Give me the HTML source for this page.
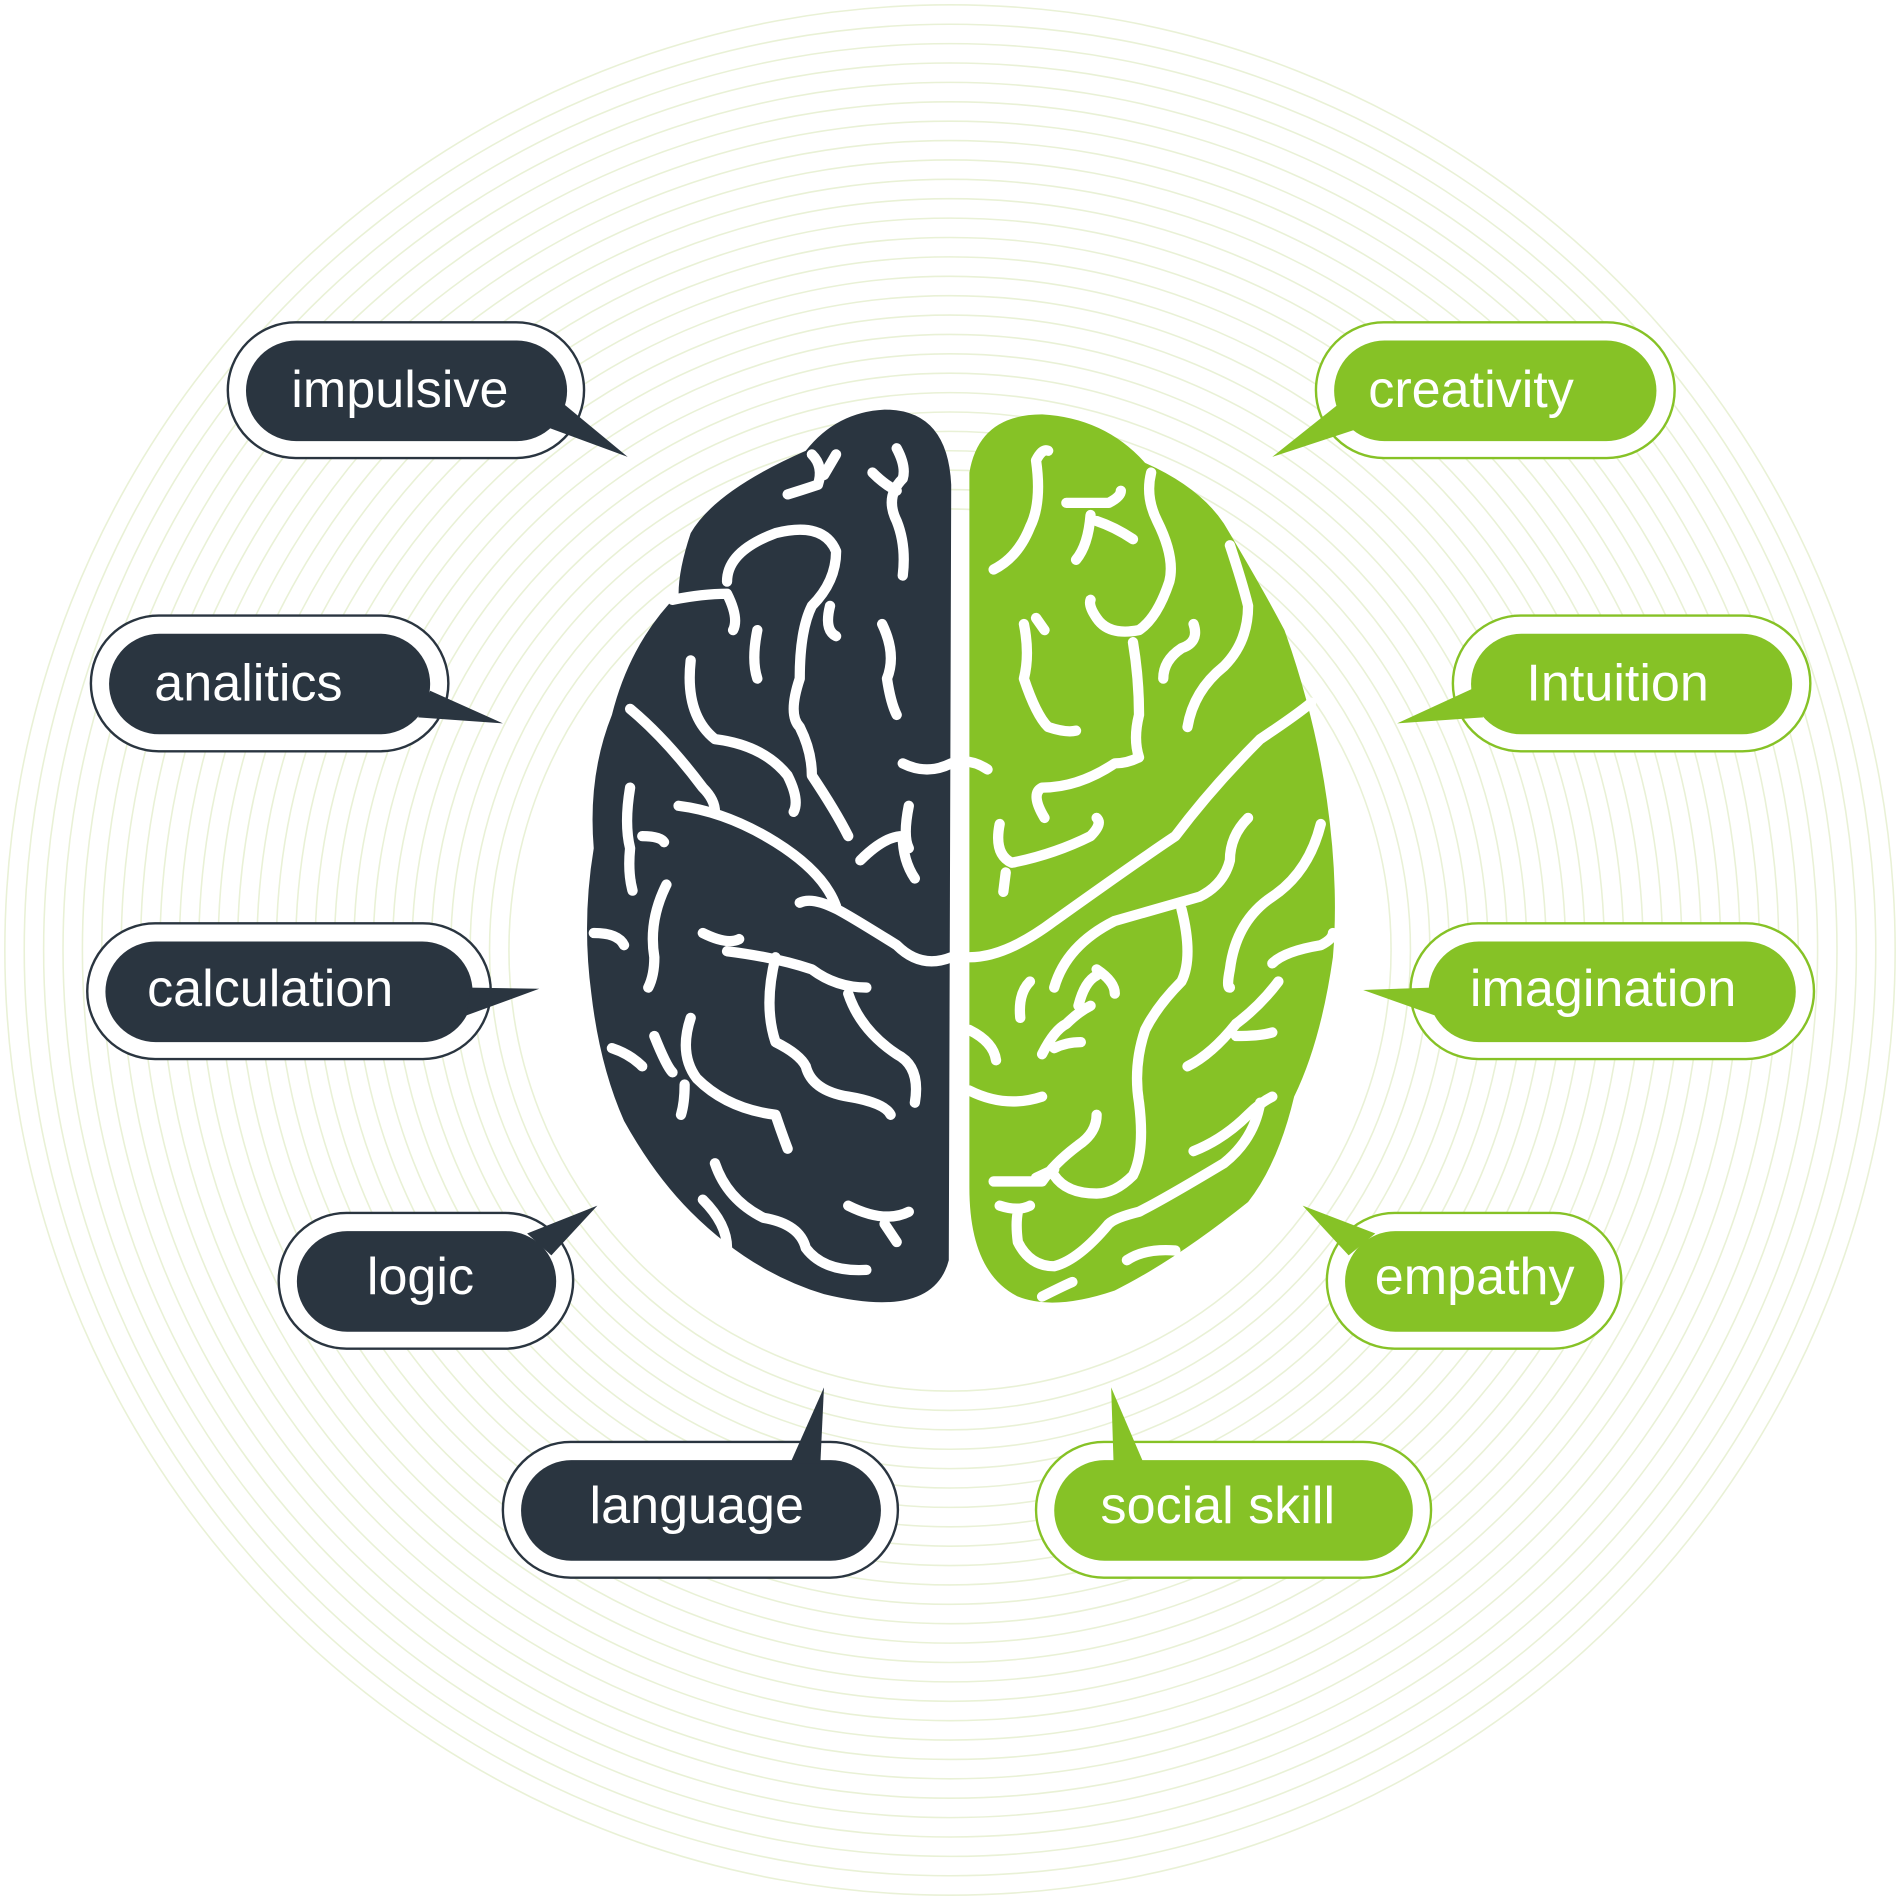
<!DOCTYPE html>
<html><head><meta charset="utf-8"><style>
html,body{margin:0;padding:0;background:#fff;}
svg{display:block;}
text{font-family:"Liberation Sans",sans-serif;font-size:43px;fill:#fff;text-anchor:middle;dominant-baseline:central;}
</style></head><body>
<svg width="1900" height="1900" viewBox="0 0 1568 1568" xmlns="http://www.w3.org/2000/svg">
<g fill="none" stroke="#e9f1d6" stroke-width="1.3">
<circle cx="784" cy="784" r="780"/><circle cx="784" cy="784" r="764"/><circle cx="784" cy="784" r="748"/><circle cx="784" cy="784" r="732"/><circle cx="784" cy="784" r="716"/><circle cx="784" cy="784" r="700"/><circle cx="784" cy="784" r="684"/><circle cx="784" cy="784" r="668"/><circle cx="784" cy="784" r="652"/><circle cx="784" cy="784" r="636"/><circle cx="784" cy="784" r="620"/><circle cx="784" cy="784" r="604"/><circle cx="784" cy="784" r="588"/><circle cx="784" cy="784" r="572"/><circle cx="784" cy="784" r="556"/><circle cx="784" cy="784" r="540"/><circle cx="784" cy="784" r="524"/><circle cx="784" cy="784" r="508"/><circle cx="784" cy="784" r="492"/><circle cx="784" cy="784" r="476"/><circle cx="784" cy="784" r="460"/><circle cx="784" cy="784" r="444"/><circle cx="784" cy="784" r="428"/><circle cx="784" cy="784" r="412"/><circle cx="784" cy="784" r="396"/><circle cx="784" cy="784" r="380"/><circle cx="784" cy="784" r="364"/>
</g>
<path fill="#2a3540" d="M785,400 Q782,338 730,338 Q690,340 665,372 Q590,405 570,440 Q560,470 560,490 Q520,530 505,590 Q485,640 490,700 Q480,760 488,820 Q495,880 515,925 Q540,970 570,1000 Q620,1050 680,1068 Q770,1090 783,1040 Z"/>
<path fill="#86c226" d="M800,390 Q808,342 860,342 Q912,345 945,382 Q990,402 1010,432 Q1040,482 1060,520 Q1085,590 1095,660 Q1105,730 1100,790 Q1090,860 1068,905 Q1055,960 1030,992 Q970,1040 920,1065 Q870,1082 840,1070 Q800,1050 800,980 Z"/>
<g fill="none" stroke="#fff" stroke-width="8.5" stroke-linecap="round" stroke-linejoin="round">
<path d="M785,790 Q760,800 740,780 Q700,755 690,750 Q670,740 660,745 M690,748 Q680,720 640,695 Q600,670 560,665"/>
<path d="M800,790 Q830,790 870,760 Q940,710 970,690 Q1000,650 1040,610 Q1070,590 1082,580"/>
<path d="M600,480 Q600,455 640,440 Q680,430 690,455 Q690,480 670,500 Q660,520 660,560 Q650,590 660,600 Q670,620 670,640 Q690,670 700,690"/>
<path d="M555,495 Q580,490 600,490 Q610,510 605,520 M520,585 Q550,610 580,650 Q590,660 590,670"/>
<path d="M570,545 Q565,590 590,610 Q630,615 650,640 Q660,660 655,670"/>
<path d="M600,785 Q640,790 670,800 Q690,815 715,815 M640,790 Q630,830 640,860 Q660,870 665,880 Q670,900 700,905 Q730,910 735,920"/>
<path d="M580,770 Q600,780 610,775 M700,820 Q710,850 740,870 Q760,880 755,910"/>
<path d="M550,730 Q535,760 540,790 Q540,805 535,815 M490,770 Q510,770 515,780"/>
<path d="M570,840 Q560,870 575,890 Q600,915 640,920 Q645,935 650,948"/>
<path d="M590,960 Q600,990 630,1005 Q660,1010 665,1030 Q680,1050 715,1048"/>
<path d="M700,995 Q730,1010 750,1000 M730,1010 L740,1025 M580,990 Q600,1010 600,1030"/>
<path d="M745,630 Q765,640 785,630 Q800,625 815,635 M710,710 Q730,690 745,690 Q745,710 755,725 M750,665 Q745,690 750,700"/>
<path d="M740,370 Q748,385 745,395 Q730,410 740,430 Q748,450 745,475 M720,390 Q730,400 740,405"/>
<path d="M670,375 Q680,385 675,400 Q660,405 650,408 M690,375 L680,392"/>
<path d="M625,520 Q620,545 625,560 M685,500 Q680,520 690,525 M728,515 Q740,540 732,560 Q735,580 740,590"/>
<path d="M520,650 Q515,680 520,700 Q518,720 522,735 M530,690 Q545,690 548,695"/>
<path d="M505,865 Q520,870 530,880 M540,855 Q550,880 555,885 M565,895 Q565,910 562,920"/>
<path d="M820,470 Q840,460 850,435 Q860,415 855,380 Q860,370 865,372"/>
<path d="M880,415 Q900,415 915,415 Q925,410 925,405 M905,430 Q920,435 935,445 M900,425 Q898,450 888,462"/>
<path d="M950,390 Q945,410 955,430 Q970,460 965,480 Q955,510 940,520 Q915,525 905,510 Q898,500 900,495"/>
<path d="M935,530 Q940,560 940,590 Q935,610 940,625 Q930,630 920,630 Q890,650 860,650 Q850,655 862,675"/>
<path d="M845,515 Q850,540 845,560 Q855,590 865,600 Q880,605 888,603 M855,510 L862,520"/>
<path d="M985,515 Q990,530 975,535 Q960,545 960,560 M1015,450 Q1025,480 1030,500 Q1030,530 1010,550 Q985,570 980,600"/>
<path d="M825,680 Q820,705 835,712 Q870,705 900,690 Q910,680 905,675 M830,720 L828,736"/>
<path d="M1030,675 Q1015,690 1015,710 Q1010,730 990,740 Q955,750 920,760 Q880,780 870,815"/>
<path d="M975,750 Q985,790 975,810 Q955,830 945,850 Q935,880 940,910 Q945,950 935,970 Q920,985 905,985 Q880,985 870,970"/>
<path d="M1090,680 Q1080,720 1050,740 Q1020,760 1015,800 Q1012,815 1015,815 M1050,795 Q1060,785 1090,780 Q1100,775 1100,770"/>
<path d="M860,870 Q870,850 880,845 Q890,835 900,830 M870,865 Q880,860 892,860 M800,850 Q820,860 822,875 M800,900 Q830,915 860,905"/>
<path d="M905,800 Q920,810 920,820 M890,830 Q895,810 905,805 M850,810 Q840,820 842,840"/>
<path d="M1055,810 Q1040,830 1020,845 Q1000,870 980,880 M1020,855 Q1040,855 1050,852"/>
<path d="M905,920 Q905,935 890,945 Q870,960 860,975 Q840,975 820,975 M870,965 L855,972"/>
<path d="M1040,910 Q1035,940 1010,960 Q960,990 940,1000 Q920,1005 915,1010 Q890,1040 870,1045 Q850,1045 840,1025 Q838,1010 840,1000 M825,995 Q840,1000 850,995"/>
<path d="M930,1040 Q945,1030 970,1032 M860,1070 Q880,1060 885,1058 M985,950 Q1010,940 1030,920 Q1040,910 1050,905"/>
</g>
<g>
<rect x="188" y="266" width="294" height="112" rx="56" fill="#fff" stroke="#2a3540" stroke-width="2"/>
<rect x="203" y="281" width="265" height="83" rx="41.5" fill="#2a3540"/>
<polygon points="450,352 466,334 518,377" fill="#2a3540"/>
<text x="330" y="322">impulsive</text>
<rect x="75" y="508" width="295" height="112" rx="56" fill="#fff" stroke="#2a3540" stroke-width="2"/>
<rect x="90" y="523" width="265" height="83" rx="41.5" fill="#2a3540"/>
<polygon points="355,570 345,592 415,597" fill="#2a3540"/>
<text x="205" y="564">analitics</text>
<rect x="72" y="762" width="333" height="112" rx="56" fill="#fff" stroke="#2a3540" stroke-width="2"/>
<rect x="87" y="777" width="303" height="83" rx="41.5" fill="#2a3540"/>
<polygon points="388,815 385,838 445,816" fill="#2a3540"/>
<text x="223" y="816">calculation</text>
<rect x="230" y="1001" width="243" height="112" rx="56" fill="#fff" stroke="#2a3540" stroke-width="2"/>
<rect x="245" y="1016" width="214" height="83" rx="41.5" fill="#2a3540"/>
<polygon points="435,1018 455,1036 493,995" fill="#2a3540"/>
<text x="347" y="1054">logic</text>
<rect x="415" y="1190" width="326" height="112" rx="56" fill="#fff" stroke="#2a3540" stroke-width="2"/>
<rect x="430" y="1205" width="297" height="83" rx="41.5" fill="#2a3540"/>
<polygon points="652,1208 677,1208 680,1145" fill="#2a3540"/>
<text x="575" y="1243">language</text>
</g>
<g>
<rect x="1086" y="266" width="296" height="112" rx="56" fill="#fff" stroke="#86c226" stroke-width="2"/>
<rect x="1101" y="281" width="266" height="83" rx="41.5" fill="#86c226"/>
<polygon points="1104,334 1120,354 1050,377" fill="#86c226"/>
<text x="1214" y="322">creativity</text>
<rect x="1199" y="508" width="295" height="112" rx="56" fill="#fff" stroke="#86c226" stroke-width="2"/>
<rect x="1214" y="523" width="265" height="83" rx="41.5" fill="#86c226"/>
<polygon points="1216,568 1224,592 1153,597" fill="#86c226"/>
<text x="1335" y="564">Intuition</text>
<rect x="1164" y="762" width="333" height="112" rx="56" fill="#fff" stroke="#86c226" stroke-width="2"/>
<rect x="1179" y="777" width="303" height="83" rx="41.5" fill="#86c226"/>
<polygon points="1181,815 1184,838 1125,817" fill="#86c226"/>
<text x="1323" y="816">imagination</text>
<rect x="1095" y="1001" width="243" height="112" rx="56" fill="#fff" stroke="#86c226" stroke-width="2"/>
<rect x="1110" y="1016" width="214" height="83" rx="41.5" fill="#86c226"/>
<polygon points="1135,1018 1113,1036 1075,995" fill="#86c226"/>
<text x="1217" y="1054">empathy</text>
<rect x="855" y="1190" width="326" height="112" rx="56" fill="#fff" stroke="#86c226" stroke-width="2"/>
<rect x="870" y="1205" width="296" height="83" rx="41.5" fill="#86c226"/>
<polygon points="919,1208 944,1208 917,1145" fill="#86c226"/>
<text x="1005" y="1243">social skill</text>
</g>
</svg>
</body></html>
